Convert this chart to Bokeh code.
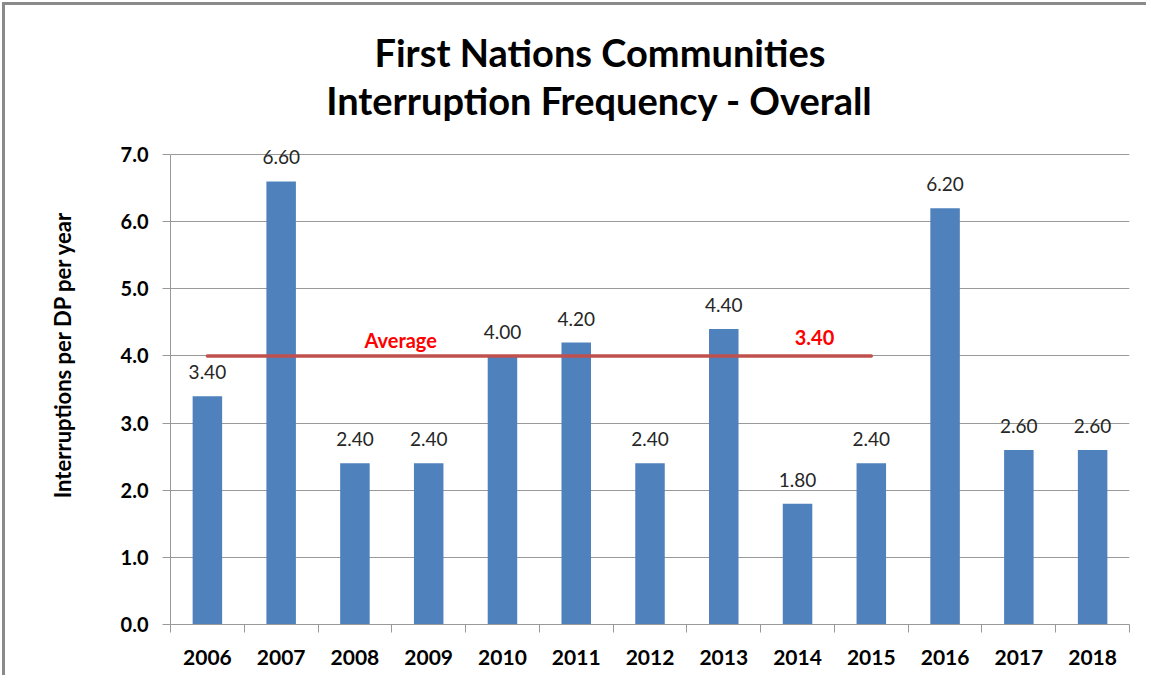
from bokeh.plotting import figure
from bokeh.models import Range1d, FixedTicker
from bokeh.core.properties import value
from bokeh.embed import file_html
from bokeh.resources import INLINE

years = ["2006", "2007", "2008", "2009", "2010", "2011", "2012",
         "2013", "2014", "2015", "2016", "2017", "2018"]
interruptions = [3.40, 6.60, 2.40, 2.40, 4.00, 4.20, 2.40,
                 4.40, 1.80, 2.40, 6.20, 2.60, 2.60]
y_tick_values = [0, 1, 2, 3, 4, 5, 6, 7]
y_tick_labels = ["0.0", "1.0", "2.0", "3.0", "4.0", "5.0", "6.0", "7.0"]
average_level = 4.0
average_text = "3.40"
average_from = "2006"
average_to = "2015"
title_lines = ["First Nations Communities", "Interruption Frequency - Overall"]
y_label = "Interruptions per DP per year"

FONT = "Lato"
GRAY = "#999999"

n = len(years)
centers = [i + 0.5 for i in range(n)]
bounds = [float(i) for i in range(n + 1)]
y_max = y_tick_values[-1]

W, H = 1144, 673
p = figure(width=W, height=H, output_backend="svg", toolbar_location=None,
           x_range=Range1d(0, n), y_range=Range1d(0, 8.043),
           title=title_lines[0],
           min_border_left=165, min_border_right=20, min_border_top=79, min_border_bottom=54)
p.styles = {"border-left": "3px solid #8a8a8a", "border-top": "3px solid #8a8a8a",
            "margin-left": "2px", "margin-top": "2px"}
p.outline_line_color = None
p.background_fill_color = "white"
p.border_fill_color = "white"

p.title.align = "left"
p.title.offset = 204
p.title.text_font = FONT
p.title.text_font_size = "38px"
p.title.text_font_style = "bold"
p.title.text_color = "black"
p.title.standoff = 19

# second title line inside the plot area, above the top gridline
p.text(x=[5.815], y=[7.819], text=[title_lines[1]], text_align="center", text_baseline="middle",
       text_font=value(FONT), text_font_size="38px", text_font_style="bold", text_color="black")

# bars
p.vbar(x=centers, top=interruptions, width=0.4, fill_color="#4F81BD", line_color=None)

# data labels
p.text(x=centers, y=interruptions, text=[f"{v:.2f}" for v in interruptions],
       y_offset=-24, text_align="center", text_baseline="middle",
       text_font=value(FONT), text_font_size="19px", text_color="#262626")

# average line
i0 = years.index(average_from)
i1 = years.index(average_to)
p.line(x=[centers[i0], centers[i1]], y=[average_level, average_level],
       line_color="#C0504D", line_width=3.5, line_cap="round")
p.text(x=[centers[i0] + 2.62], y=[average_level], text=["Average"],
       y_offset=-16, text_align="center", text_baseline="middle",
       text_font=value(FONT), text_font_size="20px", text_font_style="bold", text_color="#FF0000")
p.text(x=[centers[i1] - 0.77], y=[average_level], text=[average_text],
       y_offset=-18, text_align="center", text_baseline="middle",
       text_font=value(FONT), text_font_size="20px", text_font_style="bold", text_color="#FF0000")

# y axis
yax = p.yaxis[0]
yax.bounds = (0, y_max)
yax.ticker = FixedTicker(ticks=y_tick_values)
yax.major_label_overrides = {v: l for v, l in zip(y_tick_values, y_tick_labels)}
yax.minor_tick_line_color = None
yax.major_tick_in = 0
yax.major_tick_out = 8
yax.major_tick_line_color = GRAY
yax.axis_line_color = GRAY
yax.major_label_standoff = 14
yax.major_label_text_font = FONT
yax.major_label_text_font_size = "20px"
yax.major_label_text_font_style = "bold"
yax.major_label_text_color = "black"
yax.axis_label = y_label
yax.axis_label_text_font = FONT
yax.axis_label_text_font_size = "22px"
yax.axis_label_text_font_style = "bold"
yax.axis_label_text_color = "black"
yax.axis_label_standoff = 42

p.ygrid.ticker = FixedTicker(ticks=y_tick_values[1:])
p.ygrid.grid_line_color = GRAY
p.xgrid.grid_line_color = None

# x axis
xax = p.xaxis[0]
xax.ticker = FixedTicker(ticks=centers, minor_ticks=bounds)
xax.major_label_overrides = {c: y for c, y in zip(centers, years)}
xax.major_tick_line_color = None
xax.major_tick_in = 0
xax.major_tick_out = 8
xax.minor_tick_line_color = GRAY
xax.minor_tick_in = 0
xax.minor_tick_out = 8
xax.axis_line_color = GRAY
xax.major_label_standoff = 17
xax.major_label_text_font = FONT
xax.major_label_text_font_size = "21px"
xax.major_label_text_font_style = "bold"
xax.major_label_text_color = "black"

open("out.html", "w").write(file_html(p, INLINE))
